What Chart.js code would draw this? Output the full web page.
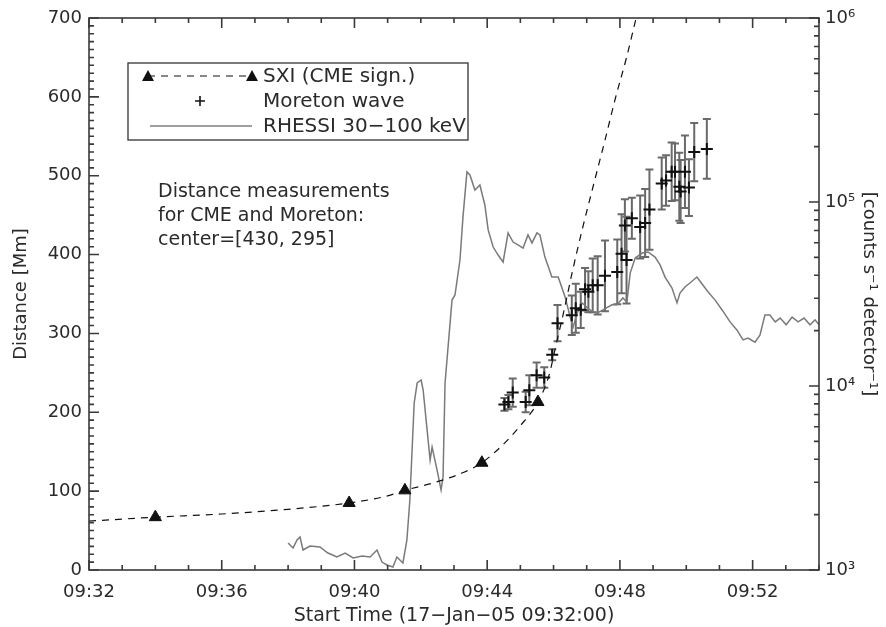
<!DOCTYPE html>
<html>
<head>
<meta charset="utf-8">
<script src="https://cdn.jsdelivr.net/npm/chart.js@4.4.1/dist/chart.umd.min.js"></script>
<style>
  html, body { margin: 0; padding: 0; background: #fff; }
  #wrap { width: 886px; height: 627px; }
</style>
</head>
<body>
<div id="wrap"><canvas id="chart" width="886" height="627"></canvas></div>
<script>
// time values are minutes after 09:32:00
const xTickLabels = ["09:32", "09:36", "09:40", "09:44", "09:48", "09:52"];
const y2TickValues = [1e3, 1e4, 1e5, 1e6];
const y2TickLabels = ["10\u00b3", "10\u2074", "10\u2075", "10\u2076"];

// SXI CME signature (triangles)
const sxiTime = [2.0, 7.84, 9.52, 11.84, 13.53];
const sxiDist = [67, 85, 101, 136, 213];

// dashed fit curve through the SXI points
const fitTime = [0, 2, 4, 6, 7.84, 9, 9.52, 10.5, 11.3, 11.84, 12.5, 13.0, 13.53, 13.85, 14.1, 14.3, 14.56, 14.86, 15.19, 15.55, 15.85, 16.2, 16.5];
const fitDist = [62, 67, 71, 77, 85, 94, 101, 112, 124, 136, 160, 183, 213, 245, 290, 326, 377, 431, 486, 545, 596, 650, 702];

// Moreton wave fronts with error bars
const moretonTime = [12.52, 12.64, 12.77, 13.16, 13.27, 13.49, 13.72, 13.96, 14.12, 14.55, 14.67, 14.82, 14.95, 15.05, 15.18, 15.33, 15.55, 15.92, 16.05, 16.2, 16.15, 16.36, 16.61, 16.76, 16.89, 17.26, 17.39, 17.56, 17.66, 17.79, 17.83, 17.96, 18.08, 18.24, 18.62];
const moretonDist = [210, 213, 225, 213, 228, 247, 244, 273, 313, 323, 332, 330, 356, 353, 361, 361, 373, 378, 401, 393, 437, 446, 435, 440, 457, 490, 494, 505, 505, 486, 480, 505, 485, 530, 534];
const moretonErr = [8, 9, 18, 13, 19, 16, 13, 7, 23, 25, 31, 23, 27, 26, 34, 37, 45, 41, 50, 55, 33, 26, 40, 43, 51, 33, 32, 37, 36, 43, 40, 46, 36, 37, 38];

// RHESSI 30-100 keV count rate
const rhessiTime = [6.00, 6.15, 6.27, 6.36, 6.45, 6.66, 6.96, 7.20, 7.47, 7.72, 7.96, 8.23, 8.47, 8.68, 8.83, 8.98, 9.16, 9.28, 9.46, 9.58, 9.67, 9.80, 9.89, 10.01, 10.07, 10.16, 10.28, 10.34, 10.49, 10.61, 10.67, 10.73, 10.94, 11.03, 11.18, 11.27, 11.39, 11.48, 11.63, 11.78, 11.93, 12.03, 12.18, 12.33, 12.48, 12.63, 12.78, 12.93, 13.08, 13.23, 13.35, 13.50, 13.59, 13.74, 13.95, 14.14, 14.35, 14.50, 14.59, 14.71, 14.86, 15.10, 15.31, 15.49, 15.76, 15.91, 16.09, 16.21, 16.31, 16.46, 16.67, 16.85, 17.06, 17.21, 17.36, 17.57, 17.72, 17.81, 17.96, 18.11, 18.32, 18.50, 18.66, 18.87, 19.08, 19.32, 19.53, 19.71, 19.86, 20.07, 20.22, 20.37, 20.52, 20.68, 20.83, 21.01, 21.19, 21.37, 21.55, 21.73, 21.88, 22.0];
const rhessiCounts = [1403, 1318, 1455, 1511, 1284, 1350, 1334, 1237, 1177, 1237, 1162, 1191, 1177, 1284, 1105, 1065, 1038, 1177, 1092, 1455, 2399, 8087, 10380, 10780, 9510, 6530, 3960, 4660, 3490, 2720, 3200, 10380, 29310, 31230, 48400, 82800, 145500, 140200, 116200, 123600, 96300, 70500, 56900, 51500, 47200, 67900, 60600, 58400, 56200, 66200, 59900, 67900, 66200, 50200, 39100, 39100, 30400, 23700, 20900, 24900, 28300, 25900, 24900, 25900, 27600, 27600, 30100, 28600, 41100, 49600, 52800, 53500, 50200, 45500, 39100, 34100, 28300, 32000, 34500, 36300, 39100, 35400, 32400, 29300, 25900, 22300, 20100, 17800, 18200, 17300, 18900, 24300, 24300, 22300, 23400, 21500, 23700, 22300, 23400, 21500, 22900, 21500];

const noteLines = ["Distance measurements", "for CME and Moreton:", "center=[430, 295]"];

const FONT = "'DejaVu Sans', sans-serif";
const INK = "#2a2a2a";

function pairs(xs, ys) {
  return xs.map((t, i) => ({ x: t, y: ys[i] }));
}

/* =========================
   ERROR BARS
========================= */

const errorBars = {
  id: "errorBars",
  beforeDatasetsDraw(chart) {
    const { ctx, scales: { x, y } } = chart;
    ctx.save();
    ctx.strokeStyle = "#6a6a6a";
    ctx.lineWidth = 2;
    moretonTime.forEach((t, i) => {
      const px = x.getPixelForValue(t);
      const top = y.getPixelForValue(moretonDist[i] + moretonErr[i]);
      const bot = y.getPixelForValue(moretonDist[i] - moretonErr[i]);
      ctx.beginPath();
      ctx.moveTo(px, top); ctx.lineTo(px, bot);
      ctx.moveTo(px - 4, top); ctx.lineTo(px + 4, top);
      ctx.moveTo(px - 4, bot); ctx.lineTo(px + 4, bot);
      ctx.stroke();
    });
    ctx.restore();
  },
};

/* =========================
   FRAME + INWARD TICKS
========================= */

const frameTicks = {
  id: "frameTicks",
  afterDatasetsDraw(chart) {
    const { ctx, chartArea: a, scales: { x, y, y2 } } = chart;
    ctx.save();
    ctx.strokeStyle = "#3a3a3a";
    ctx.lineWidth = 1.6;
    ctx.strokeRect(a.left, a.top, a.right - a.left, a.bottom - a.top);
    ctx.beginPath();
    for (let m = x.min; m <= x.max; m += 1) {
      const px = x.getPixelForValue(m);
      const len = m % 4 === 0 ? 10 : 5;
      ctx.moveTo(px, a.bottom); ctx.lineTo(px, a.bottom - len);
      ctx.moveTo(px, a.top); ctx.lineTo(px, a.top + len);
    }
    for (let v = y.min; v <= y.max; v += 10) {
      const py = y.getPixelForValue(v);
      const len = v % 100 === 0 ? 10 : 5;
      ctx.moveTo(a.left, py); ctx.lineTo(a.left + len, py);
    }
    for (let d = 1e3; d < 1e6; d *= 10) {
      for (let k = 1; k <= 10; k++) {
        const py = y2.getPixelForValue(d * k);
        const len = k === 1 || k === 10 ? 10 : 5;
        ctx.moveTo(a.right, py); ctx.lineTo(a.right - len, py);
      }
    }
    ctx.stroke();
    ctx.restore();
  },
};

/* =========================
   LEGEND BOX + NOTE
========================= */

const legendBox = {
  id: "legendBox",
  afterDraw(chart) {
    const { ctx } = chart;
    const ds = chart.data.datasets;
    ctx.save();
    ctx.strokeStyle = "#333";
    ctx.lineWidth = 1.3;
    ctx.strokeRect(128, 63, 340, 77);

    ctx.textBaseline = "middle";
    const rows = [76, 101, 126];

    // row 1: dashed line with triangles
    ctx.strokeStyle = "#111";
    ctx.lineWidth = 1.2;
    ctx.setLineDash([7, 6]);
    ctx.beginPath();
    ctx.moveTo(148, rows[0]); ctx.lineTo(252, rows[0]);
    ctx.stroke();
    ctx.setLineDash([]);
    [148, 252].forEach((tx) => {
      ctx.beginPath();
      ctx.moveTo(tx, rows[0] - 6); ctx.lineTo(tx + 6, rows[0] + 5); ctx.lineTo(tx - 6, rows[0] + 5);
      ctx.closePath();
      ctx.fillStyle = "#111";
      ctx.fill();
    });

    // row 2: plus
    ctx.lineWidth = 1.6;
    ctx.beginPath();
    ctx.moveTo(195, rows[1]); ctx.lineTo(205, rows[1]);
    ctx.moveTo(200, rows[1] - 5); ctx.lineTo(200, rows[1] + 5);
    ctx.stroke();

    // row 3: gray line
    ctx.strokeStyle = "#7f7f7f";
    ctx.lineWidth = 1.3;
    ctx.beginPath();
    ctx.moveTo(150, rows[2]); ctx.lineTo(252, rows[2]);
    ctx.stroke();

    ctx.fillStyle = INK;
    ctx.font = "20px " + FONT;
    ds.forEach((d, i) => { if (i < 3) ctx.fillText(d.label, 263, rows[i] + 1); });

    ctx.font = "19px " + FONT;
    noteLines.forEach((line, i) => ctx.fillText(line, 158, 192 + i * 24));
    ctx.restore();
  },
};

/* =========================
   CHART
========================= */

new Chart(document.getElementById("chart"), {
  type: "scatter",
  data: {
    datasets: [
      {
        label: "SXI (CME sign.)",
        data: pairs(sxiTime, sxiDist),
        pointStyle: "triangle",
        pointRadius: 7,
        backgroundColor: "#111",
        borderColor: "#111",
        borderWidth: 1,
        yAxisID: "y",
        order: 1,
      },
      {
        label: "Moreton wave",
        data: pairs(moretonTime, moretonDist),
        pointStyle: "cross",
        pointRadius: 6,
        borderColor: "#111",
        borderWidth: 2,
        yAxisID: "y",
        order: 0,
      },
      {
        label: "RHESSI 30\u2212100 keV",
        data: pairs(rhessiTime, rhessiCounts),
        showLine: true,
        pointRadius: 0,
        borderColor: "#7a7a7a",
        borderWidth: 1.5,
        yAxisID: "y2",
        order: 3,
      },
      {
        label: "fit",
        data: pairs(fitTime, fitDist),
        showLine: true,
        pointRadius: 0,
        borderColor: "#111",
        borderWidth: 1.2,
        borderDash: [7, 6],
        cubicInterpolationMode: "monotone",
        yAxisID: "y",
        order: 2,
      },
    ],
  },
  options: {
    responsive: false,
    animation: false,
    layout: { padding: { top: 18, left: 0, right: 0, bottom: 0 } },
    plugins: { legend: { display: false }, tooltip: { enabled: false } },
    scales: {
      x: {
        type: "linear",
        min: 0,
        max: 22,
        grid: { display: false, drawTicks: false },
        border: { display: false },
        ticks: {
          stepSize: 4,
          padding: 12,
          color: INK,
          font: { family: FONT, size: 18 },
          callback: (v) => xTickLabels[v / 4] || "",
        },
        title: {
          display: true,
          text: "Start Time (17\u2212Jan\u221205 09:32:00)",
          color: INK,
          font: { family: FONT, size: 19 },
          padding: { top: 0, bottom: 0 },
        },
        afterFit: (s) => { s.height = 57; },
      },
      y: {
        position: "left",
        min: 0,
        max: 700,
        grid: { display: false, drawTicks: false },
        border: { display: false },
        ticks: { stepSize: 100, padding: 7, color: INK, font: { family: FONT, size: 18 } },
        title: {
          display: true,
          text: "Distance [Mm]",
          color: INK,
          font: { family: FONT, size: 18 },
          padding: { top: 11, bottom: 0 },
        },
        afterFit: (s) => { s.width = 89; },
      },
      y2: {
        type: "logarithmic",
        position: "right",
        min: 1e3,
        max: 1e6,
        grid: { display: false, drawTicks: false },
        border: { display: false },
        afterBuildTicks: (s) => { s.ticks = y2TickValues.map((v) => ({ value: v })); },
        ticks: {
          padding: 6,
          color: INK,
          font: { family: FONT, size: 18 },
          callback: (v) => y2TickLabels[y2TickValues.indexOf(v)] || "",
        },
        title: {
          display: true,
          text: "[counts s\u207b\u00b9 detector\u207b\u00b9]",
          color: INK,
          font: { family: FONT, size: 18 },
          padding: { top: 7, bottom: 0 },
        },
        afterFit: (s) => { s.width = 67; },
      },
    },
  },
  plugins: [errorBars, frameTicks, legendBox],
});
</script>
</body>
</html>
